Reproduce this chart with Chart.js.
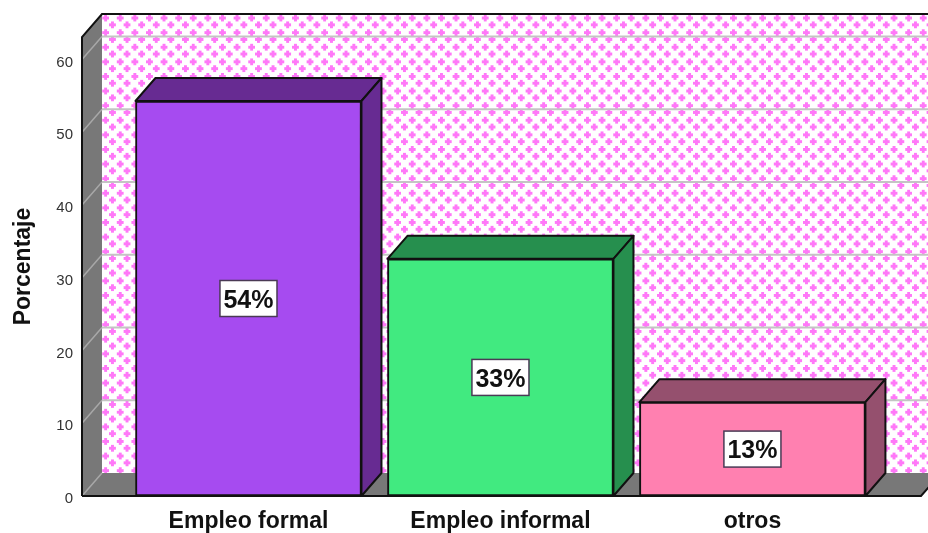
<!DOCTYPE html>
<html>
<head>
<meta charset="utf-8">
<style>
  html, body { margin: 0; padding: 0; background: #fff; }
  #wrap { width: 928px; height: 533px; }
</style>
<script src="https://cdn.jsdelivr.net/npm/chart.js@4/dist/chart.umd.min.js"></script>
</head>
<body>
<div id="wrap"><canvas id="grafico" width="928" height="533"></canvas></div>
<script>
const categorias = ["Empleo formal", "Empleo informal", "otros"];
const porcentajes = [54.3, 32.6, 12.9];
const etiquetas = ["54%", "33%", "13%"];
const coloresFrente = ["#a64bf0", "#41ea80", "#ff80b0"];
const coloresSombra = ["#672b92", "#268f4e", "#95506e"];
const ticksY = [0, 10, 20, 30, 40, 50, 60];

// profundidad del efecto 3D
const DX = 20;
const DY = -23;

function tramaCruces(ctx) {
  const c = document.createElement("canvas");
  c.width = 15;
  c.height = 15;
  const p = c.getContext("2d");
  p.fillStyle = "#ffffff";
  p.fillRect(0, 0, 15, 15);
  [[3, 3], [10, 10]].forEach(([x, y]) => {
    p.fillStyle = "#ff78f8";
    p.fillRect(x - 1, y - 3, 3, 7);
    p.fillRect(x - 3, y - 1, 7, 3);
  });
  const trama = ctx.createPattern(c, "repeat");
  trama.setTransform(new DOMMatrix().scale(14.6 / 15));
  return trama;
}

function poligono(ctx, puntos, relleno, borde, ancho) {
  ctx.beginPath();
  puntos.forEach(([x, y], i) => (i ? ctx.lineTo(x, y) : ctx.moveTo(x, y)));
  ctx.closePath();
  if (relleno) {
    ctx.fillStyle = relleno;
    ctx.fill();
  }
  if (borde) {
    ctx.strokeStyle = borde;
    ctx.lineWidth = ancho || 2;
    ctx.lineJoin = "round";
    ctx.stroke();
  }
}

// paredes, piso y rejilla
const fondo3d = {
  id: "fondo3d",
  beforeDatasetsDraw(chart) {
    const { ctx, chartArea: a, scales } = chart;
    const y = scales.y;
    ctx.save();
    poligono(ctx, [[a.left + DX, a.top + DY], [a.right + DX, a.top + DY], [a.right + DX, a.bottom + DY], [a.left + DX, a.bottom + DY]], tramaCruces(ctx));
    poligono(ctx, [[a.left, a.top], [a.left + DX, a.top + DY], [a.left + DX, a.bottom + DY], [a.left, a.bottom]], "#787878");
    poligono(ctx, [[a.left, a.bottom], [a.left + DX, a.bottom + DY], [a.right + DX, a.bottom + DY], [a.right, a.bottom]], "#787878");

    ticksY.forEach((t) => {
      const py = y.getPixelForValue(t);
      ctx.strokeStyle = "#a8a8a8";
      ctx.lineWidth = 1.5;
      ctx.beginPath();
      ctx.moveTo(a.left, py);
      ctx.lineTo(a.left + DX, py + DY);
      ctx.stroke();
      if (t > 0) {
        ctx.strokeStyle = "#c4c4c4";
        ctx.lineWidth = 2;
        ctx.beginPath();
        ctx.moveTo(a.left + DX, py + DY);
        ctx.lineTo(a.right + DX, py + DY);
        ctx.stroke();
      }
    });

    ctx.strokeStyle = "#111111";
    ctx.lineWidth = 2;
    ctx.beginPath();
    ctx.moveTo(a.left, a.bottom);
    ctx.lineTo(a.left, a.top);
    ctx.lineTo(a.left + DX, a.top + DY);
    ctx.lineTo(a.right + DX, a.top + DY);
    ctx.stroke();
    ctx.beginPath();
    ctx.moveTo(a.left, a.bottom);
    ctx.lineTo(a.right, a.bottom);
    ctx.lineTo(a.right + DX, a.bottom + DY);
    ctx.stroke();

    // tapa y lado de cada barra
    chart.getDatasetMeta(0).data.forEach((bar, i) => {
      const l = bar.x - bar.width / 2;
      const r = bar.x + bar.width / 2;
      const t = bar.y;
      const b = bar.base;
      poligono(ctx, [[l, t], [l + DX, t + DY], [r + DX, t + DY], [r, t]], coloresSombra[i], "#111111", 2);
      poligono(ctx, [[r, t], [r + DX, t + DY], [r + DX, b + DY], [r, b]], coloresSombra[i], "#111111", 2);
    });
    ctx.restore();
  },
  afterDatasetsDraw(chart) {
    const { ctx } = chart;
    ctx.save();
    ctx.font = "bold 25px 'Liberation Sans', Arial, sans-serif";
    ctx.textAlign = "center";
    ctx.textBaseline = "middle";
    chart.getDatasetMeta(0).data.forEach((bar, i) => {
      const cy = (bar.y + bar.base) / 2;
      const w = ctx.measureText(etiquetas[i]).width + 7;
      const h = 36;
      ctx.fillStyle = "#ffffff";
      ctx.fillRect(bar.x - w / 2, cy - h / 2, w, h);
      ctx.strokeStyle = "#4a3a55";
      ctx.lineWidth = 1.5;
      ctx.strokeRect(bar.x - w / 2, cy - h / 2, w, h);
      ctx.fillStyle = "#111111";
      ctx.fillText(etiquetas[i], bar.x, cy + 2.5);
    });
    ctx.restore();
  },
};

new Chart(document.getElementById("grafico").getContext("2d"), {
  type: "bar",
  data: {
    datasets: [
      {
        data: porcentajes.map((v, i) => ({ x: i, y: v })),
        backgroundColor: coloresFrente,
        borderColor: "#111111",
        borderWidth: 2,
        borderSkipped: false,
        barThickness: 226,
      },
    ],
  },
  options: {
    responsive: false,
    animation: false,
    layout: { padding: { top: 37, right: 7, left: 0, bottom: 0 } },
    plugins: { legend: { display: false }, tooltip: { enabled: false } },
    scales: {
      x: {
        type: "linear",
        offset: false,
        min: -0.6607,
        max: 2.669,
        afterBuildTicks(scale) {
          scale.ticks = categorias.map((_, i) => ({ value: i }));
        },
        afterFit(scale) {
          scale.height = 37;
        },
        grid: { display: false, drawTicks: false },
        border: { display: false },
        ticks: {
          autoSkip: false,
          maxRotation: 0,
          padding: 12,
          color: "#111111",
          font: { family: "'Liberation Sans', Arial, sans-serif", size: 23, weight: "bold" },
          callback: (v) => categorias[v],
        },
      },
      y: {
        min: 0,
        max: 63.1,
        afterBuildTicks(scale) {
          scale.ticks = ticksY.map((v) => ({ value: v }));
        },
        afterFit(scale) {
          scale.width = 82;
        },
        grid: { display: false, drawTicks: false },
        border: { display: false },
        title: {
          display: true,
          text: "Porcentaje",
          color: "#111111",
          padding: { top: 10, bottom: 0 },
          font: { family: "'Liberation Sans', Arial, sans-serif", size: 23, weight: "bold" },
        },
        ticks: {
          padding: 9,
          labelOffset: 3,
          color: "#333333",
          font: { family: "'Liberation Sans', Arial, sans-serif", size: 15 },
        },
      },
    },
  },
  plugins: [fondo3d],
});
</script>
</body>
</html>
